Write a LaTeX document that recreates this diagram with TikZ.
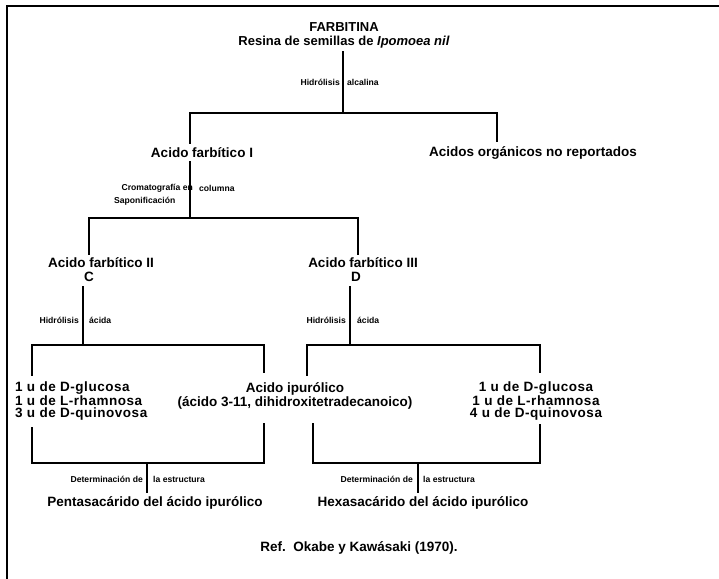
\documentclass[tikz,border=0pt]{standalone}
\usepackage{fontspec}
\setmainfont{Liberation Sans}
\begin{document}
\begin{tikzpicture}[x=1pt,y=-1pt,
  big/.style={font=\fontsize{13.5}{12.5}\selectfont\bfseries, inner sep=0pt, align=center},
  list/.style={font=\fontsize{13.5}{12.5}\selectfont\bfseries\addfontfeature{LetterSpace=4}, inner sep=0pt},
  small/.style={font=\fontsize{8.6}{9}\selectfont\bfseries, inner sep=0pt},
  link/.style={line width=1.9pt, line cap=rect}]
\useasboundingbox (0,0) rectangle (719,578);

% frame (top and left edges)
\coordinate (fTL) at (7,6);
\coordinate (fTR) at (719,6);
\coordinate (fBL) at (7,578);
\draw[link] (fTR) -- (fTL) -- (fBL);

% ---- starting material ----
\node[big, font=\fontsize{13}{14}\selectfont\bfseries] (farb) at (344,35)
  {FARBITINA\\Resina de semillas de \textit{Ipomoea nil}};
\coordinate (s0) at (343,52);
\coordinate (j0) at (343,113);
\coordinate (j0l) at (190,113);
\coordinate (j0r) at (497,113);
\node[small, anchor=east] (h0) at (340,82) {Hidrólisis};
\node[small, anchor=west] (a0) at (347,82) {alcalina};

\node[big] (af1) at (202,153) {Acido farbítico I};
\node[big] (aor) at (533,153) {Acidos orgánicos no reportados};

\draw[link] (s0) -- (j0);
\draw[link] ([yshift=5pt]af1.north -| j0l) -- (j0l) -- (j0r) -- ([yshift=5pt]aor.north -| j0r);

% ---- column chromatography ----
\coordinate (j1) at (190,218);
\coordinate (j1l) at (89,218);
\coordinate (j1r) at (358,218);
\draw[link] ([yshift=-4pt]af1.south -| j1) -- (j1);
\node[small, anchor=east] (crom) at (193,188) {Cromatografía en};
\node[small, anchor=west] (col) at (199,188) {columna};
\node[small, anchor=west] (sap) at (114,201) {Saponificación};

\node[big] (af2) at (101,263) {Acido farbítico II};
\node[big] (cC) at (89,277) {C};
\node[big] (af3) at (363,263) {Acido farbítico III};
\node[big] (dD) at (356,277) {D};
\draw[link] ([yshift=4pt]af2.north -| j1l) -- (j1l) -- (j1r) -- ([yshift=4pt]af3.north -| j1r);

% ---- acid hydrolysis ----
\coordinate (j2a) at (83,345);
\coordinate (j2al) at (32,345);
\coordinate (j2ar) at (264,345);
\coordinate (j2b) at (350,345);
\coordinate (j2bl) at (307,345);
\coordinate (j2br) at (540,345);
\draw[link] ([yshift=-5pt]cC.south -| j2a) -- (j2a);
\draw[link] ([yshift=-5pt]dD.south -| j2b) -- (j2b);
\node[small, anchor=east] (h1) at (79,320) {Hidrólisis};
\node[small, anchor=west] (a1) at (89,320) {ácida};
\node[small, anchor=east] (h2) at (346,320) {Hidrólisis};
\node[small, anchor=west] (a2) at (357,320) {ácida};

\coordinate (u1) at (32,375);
\coordinate (u2) at (264,372);
\coordinate (u3) at (307,375);
\coordinate (u4) at (540,372);
\draw[link] (u1) -- (j2al) -- (j2ar) -- (u2);
\draw[link] (u3) -- (j2bl) -- (j2br) -- (u4);

% ---- hydrolysis products ----
\node[list, align=left, anchor=west] (lst1) at (15,401)
  {1 u de D-glucosa\\1 u de L-rhamnosa\\3 u de D-quinovosa};
\node[big] (ipu) at (295,396)
  {Acido ipurólico\\(ácido 3-11, dihidroxitetradecanoico)};
\node[list, align=center] (lst2) at (536,401)
  {1 u de D-glucosa\\1 u de L-rhamnosa\\4 u de D-quinovosa};

% ---- structure determination ----
\coordinate (d1) at (32,428);
\coordinate (d2) at (264,424);
\coordinate (d3) at (313,424);
\coordinate (d4) at (540,425);
\coordinate (k1) at (32,463);
\coordinate (k2) at (264,463);
\coordinate (k3) at (313,463);
\coordinate (k4) at (540,463);
\coordinate (m1) at (147,463);
\coordinate (m1e) at (147,492);
\coordinate (m2) at (418,463);
\coordinate (m2e) at (418,492);
\draw[link] (d1) -- (k1) -- (k2) -- (d2);
\draw[link] (d3) -- (k3) -- (k4) -- (d4);
\draw[link] (m1) -- (m1e);
\draw[link] (m2) -- (m2e);
\node[small, anchor=east] (det1) at (143,479) {Determinación de};
\node[small, anchor=west] (est1) at (153,479) {la estructura};
\node[small, anchor=east] (det2) at (413,479) {Determinación de};
\node[small, anchor=west] (est2) at (423,479) {la estructura};

\node[big] (pent) at (155,503) {Pentasacárido del ácido ipurólico};
\node[big] (hexa) at (423,503) {Hexasacárido del ácido ipurólico};

\node[big] (ref) at (359,548) {Ref.\ \ Okabe y Kawásaki (1970).};
\end{tikzpicture}
\end{document}
